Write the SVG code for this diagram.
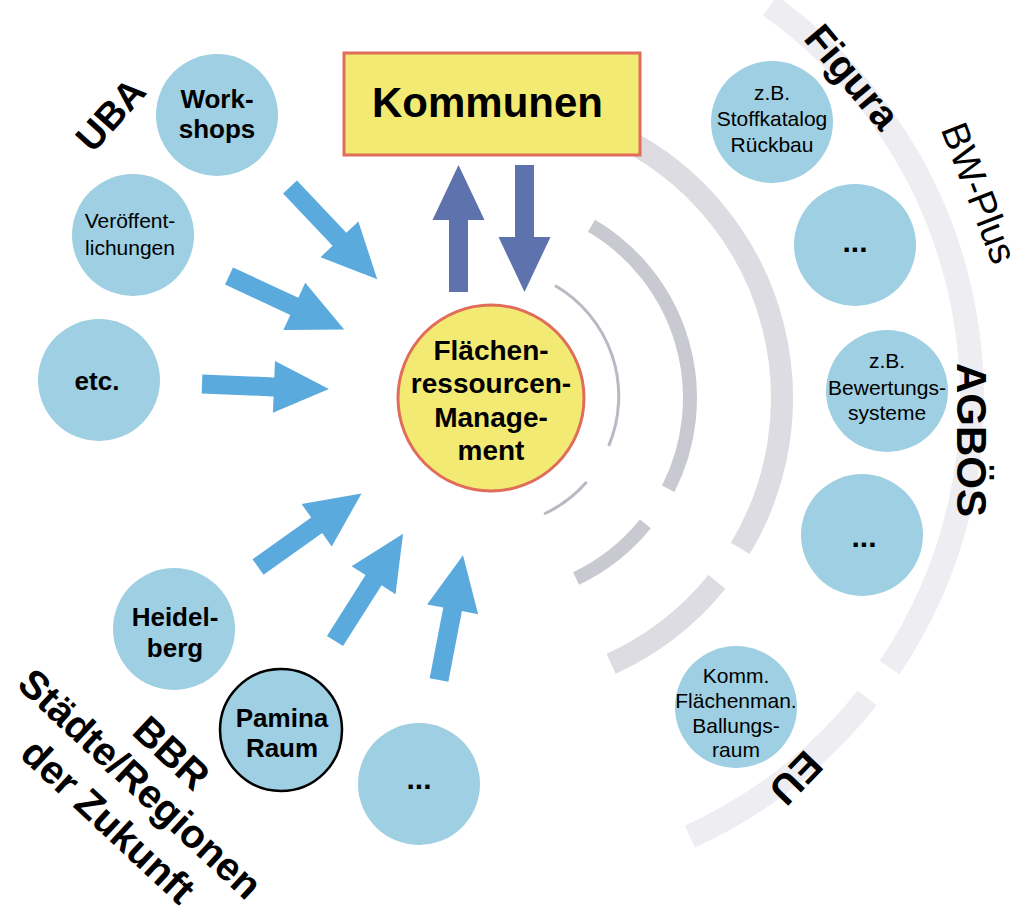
<svg xmlns="http://www.w3.org/2000/svg" xmlns:xlink="http://www.w3.org/1999/xlink" width="1026" height="911" viewBox="0 0 1026 911">
<style>
.t{font-family:"Liberation Sans",Arial,sans-serif;fill:#000;text-anchor:middle}
.b{font-weight:bold}
.n{font-size:21px}
.bn{font-size:26px;font-weight:bold}
.lbl{font-size:40px;font-weight:bold}
.c{fill:#9ecfe2}
.arc{fill:none}
</style>
<defs>
<polygon id="arr" points="0,-9.5 72,-9.5 72,-26 127,0 72,26 72,9.5 0,9.5"/>
</defs>
<rect width="1026" height="911" fill="#ffffff"/>
<g id="rings">
<path class="arc" stroke="#eeedf1" stroke-width="24" d="M769.9,5.6 A482,482 0 0 1 889.6,667.5 M867.2,698 A482,482 0 0 1 689.9,836.6"/>
<path class="arc" stroke="#dcdce2" stroke-width="22" d="M636,145.1 A292,292 0 0 1 740.3,548.4 M716.9,581.8 A292,292 0 0 1 611.1,663.7"/>
<path class="arc" stroke="#c9c9d1" stroke-width="14" d="M591.5,225.7 A200,200 0 0 1 668.2,488.8 M645.4,523.9 A200,200 0 0 1 576.1,578.5"/>
<path class="arc" stroke="#b9b9c3" stroke-width="3" d="M555,285.5 A128,128 0 0 1 608.7,445.9 M586.6,482 A128,128 0 0 1 544.1,514"/>
</g>
<g id="connectors">
<use xlink:href="#arr" fill="#5aaade" transform="translate(290,187) rotate(46.6)"/>
<use xlink:href="#arr" fill="#5aaade" transform="translate(229,276) rotate(24.9)"/>
<use xlink:href="#arr" fill="#5aaade" transform="translate(202,384) rotate(2.3)"/>
<use xlink:href="#arr" fill="#5aaade" transform="translate(258,567) rotate(-35.4)"/>
<use xlink:href="#arr" fill="#5aaade" transform="translate(335,641) rotate(-57.6)"/>
<use xlink:href="#arr" fill="#5aaade" transform="translate(439,680) rotate(-79.1)"/>
<use xlink:href="#arr" fill="#5e73ad" transform="translate(458.5,292) rotate(-90)"/>
<use xlink:href="#arr" fill="#5e73ad" transform="translate(524.5,165) rotate(90)"/>
</g>
<g id="kommunen">
<rect x="344" y="53" width="296" height="102" fill="#f2ea73" stroke="#e06c5a" stroke-width="3"/>
<text class="t b" x="487.5" y="117" font-size="42">Kommunen</text>
</g>
<g id="management">
<circle cx="491" cy="398" r="93" fill="#f2ea73" stroke="#e06c5a" stroke-width="3"/>
<text class="t b" font-size="28"><tspan x="491" y="360">Flächen-</tspan><tspan x="491" y="393">ressourcen-</tspan><tspan x="491" y="427">Manage-</tspan><tspan x="491" y="460">ment</tspan></text>
</g>
<g id="workshops">
<circle class="c" cx="217" cy="115" r="61"/>
<text class="t bn"><tspan x="217" y="108">Work-</tspan><tspan x="217" y="138">shops</tspan></text>
</g>
<g id="veroeffentlichungen">
<circle class="c" cx="133" cy="235" r="61"/>
<text class="t n"><tspan x="130" y="228">Veröffent-</tspan><tspan x="130" y="255">lichungen</tspan></text>
</g>
<g id="etc">
<circle class="c" cx="99" cy="380" r="61"/>
<text class="t bn" x="97" y="390">etc.</text>
</g>
<g id="heidelberg">
<circle class="c" cx="174" cy="629" r="61"/>
<text class="t bn"><tspan x="175" y="626">Heidel-</tspan><tspan x="175" y="657">berg</tspan></text>
</g>
<g id="pamina">
<circle class="c" cx="281" cy="730" r="61" stroke="#000" stroke-width="2.5"/>
<text class="t bn"><tspan x="282" y="727">Pamina</tspan><tspan x="282" y="757">Raum</tspan></text>
</g>
<g id="dots-bottom">
<circle class="c" cx="419" cy="784" r="61"/>
<text class="t b" font-size="30" x="419" y="789">...</text>
</g>
<g id="stoffkatalog">
<circle class="c" cx="772" cy="122" r="61"/>
<text class="t n"><tspan x="772" y="100">z.B.</tspan><tspan x="772" y="126">Stoffkatalog</tspan><tspan x="772" y="152">Rückbau</tspan></text>
</g>
<g id="dots-right-1">
<circle class="c" cx="855" cy="245" r="61"/>
<text class="t b" font-size="30" x="855" y="252">...</text>
</g>
<g id="bewertung">
<circle class="c" cx="887" cy="391" r="61"/>
<text class="t n"><tspan x="887" y="368">z.B.</tspan><tspan x="887" y="395">Bewertungs-</tspan><tspan x="887" y="420">systeme</tspan></text>
</g>
<g id="dots-right-2">
<circle class="c" cx="862" cy="535" r="61"/>
<text class="t b" font-size="30" x="864" y="547">...</text>
</g>
<g id="komm">
<circle class="c" cx="736" cy="707" r="61"/>
<text class="t n"><tspan x="736" y="683">Komm.</tspan><tspan x="736" y="708">Flächenman.</tspan><tspan x="736" y="733">Ballungs-</tspan><tspan x="736" y="757">raum</tspan></text>
</g>
<g id="labels">
<text class="t b" font-size="38" transform="translate(110,114) rotate(-48)" y="14">UBA</text>
<text class="t b" font-size="40" transform="translate(851,78) rotate(50)" y="12">Figura</text>
<text class="t" font-size="38" transform="translate(979,193) rotate(69)" y="13">BW-Plus</text>
<text class="t b" font-size="42" transform="translate(972,440) rotate(90)" y="15">AGBÖS</text>
<text class="t b" font-size="40" transform="translate(796,778) rotate(134)" y="14">EU</text>
<g transform="translate(139,785) rotate(43)">
<text class="t lbl" x="2" y="-32">BBR</text>
<text class="t lbl" x="0" y="12">Städte/Regionen</text>
<text class="t lbl" x="2" y="61">der Zukunft</text>
</g>
</g>
</svg>
